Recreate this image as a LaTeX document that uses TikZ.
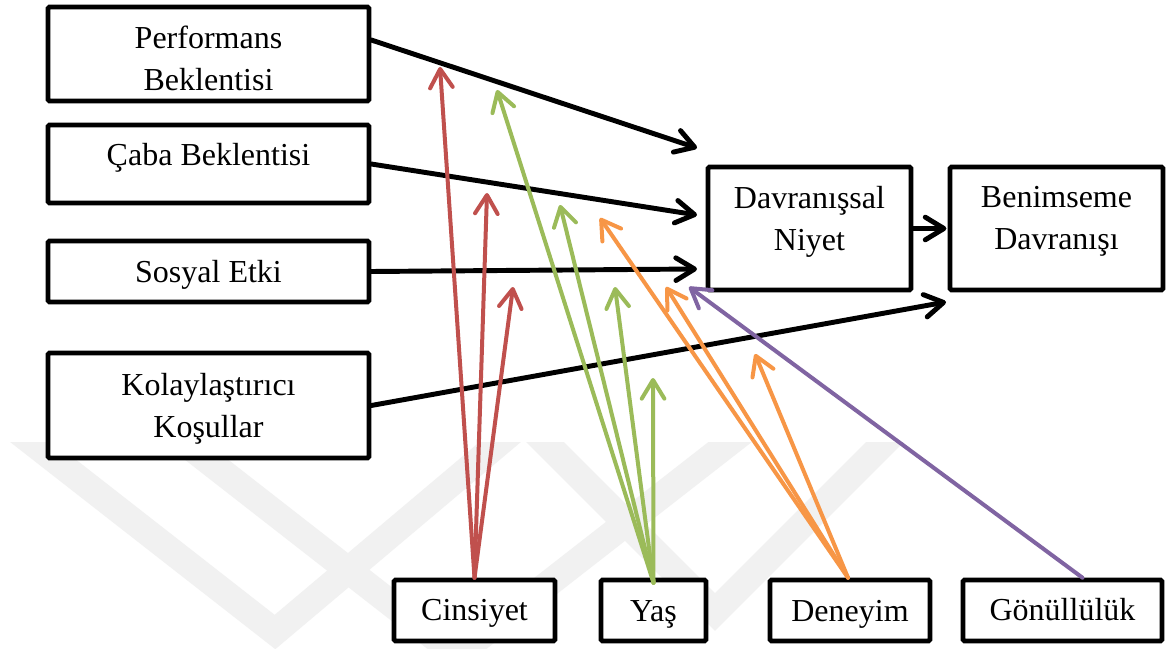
\documentclass[tikz,border=0pt]{standalone}
\usepackage{fontspec}
\setmainfont{Liberation Serif}
\usetikzlibrary{arrows.meta,calc}
\definecolor{cred}{HTML}{C0504D}
\definecolor{cgreen}{HTML}{9BBB59}
\definecolor{corange}{HTML}{F79646}
\definecolor{cpurple}{HTML}{8064A2}
\definecolor{wmark}{HTML}{F1F1F1}
\begin{document}
\begin{tikzpicture}[x=0.75pt,y=-0.75pt,
  box/.style={draw=black, line width=3.4pt, rounded corners=1pt, inner sep=0pt, fill=white},
  boxw/.style={minimum width=#1*0.75pt},
  boxh/.style={minimum height=#1*0.75pt},
  txt/.style={font=\fontsize{24}{31.5}\selectfont, align=center, inner sep=0pt},
  link/.style={draw=black, line width=3.7pt, line cap=round, line join=round,
    -{Straight Barb[length=14pt,width=17pt,round]}},
  mod/.style={link, line width=3pt, draw=#1}]

\useasboundingbox (0,0) rectangle (1167,649);
\fill[white] (0,0) rectangle (1167,649);

% faint chevron watermark in the lower half
\begin{scope}
  \clip (0,442) rectangle (1167,649);
  \draw[wmark, line width=20pt, line join=miter] (-22,400) -- (275,632) -- (550,400);
  \draw[wmark, line width=20pt, line join=miter] (130,400) -- (457,655) -- (784,400);
  \draw[wmark, line width=20pt, line join=miter] (503,400) -- (715,612) -- (927,400);
\end{scope}

% construct boxes
\node[box, boxw=321, boxh=94]  (perf)   at (208.5,54)    {};
\node[box, boxw=321, boxh=78]  (caba)   at (208.5,164)   {};
\node[box, boxw=321, boxh=61]  (sosyal) at (208.5,271.5) {};
\node[box, boxw=321, boxh=105] (kolay)  at (208.5,405.5) {};
\node[box, boxw=203, boxh=123] (niyet)  at (809.5,228.5) {};
\node[box, boxw=213, boxh=123] (benim)  at (1056.5,228.5) {};

% moderator boxes
\node[box, boxw=161, boxh=61] (cins) at (474.5,610.5) {};
\node[box, boxw=105, boxh=61] (yas)  at (653.5,610.5) {};
\node[box, boxw=160, boxh=61] (den)  at (850,610.5)   {};
\node[box, boxw=199, boxh=61] (gon)  at (1062.5,610.5) {};

% labels
\node[txt] (perf-t)   at (208.5,58)    {Performans\\Beklentisi};
\node[txt] (caba-t)   at (208.5,157.5) {Çaba Beklentisi};
\node[txt] (sosyal-t) at (208.5,274.5) {Sosyal Etki};
\node[txt] (kolay-t)  at (208.5,408.5) {Kolaylaştırıcı\\Koşullar};
\node[txt] (niyet-t)  at (809.5,221.5) {Davranışsal\\Niyet};
\node[txt] (benim-t)  at (1056.5,221.5) {Benimseme\\Davranışı};
\node[txt] (cins-t)   at (474.5,613.5) {Cinsiyet};
\node[txt] (yas-t)    at (653.5,614)   {Yaş};
\node[txt] (den-t)    at (850,614)     {Deneyim};
\node[txt] (gon-t)    at (1062.5,610)  {Gönüllülük};

% free arrow ends
\coordinate (t1) at (697,148);
\coordinate (t2) at (697,215);
\coordinate (t3) at (697,269);
\coordinate (t4) at (946,302);
\coordinate (r1) at (440,67);
\coordinate (r2) at (487,193);
\coordinate (r3) at (513,287);
\coordinate (g1) at (497,90);
\coordinate (g2) at (560,205);
\coordinate (g3) at (615,287);
\coordinate (g4) at (653,378);
\coordinate (o1) at (600,218);
\coordinate (o2) at (666,287);
\coordinate (o3) at (755,354);
\coordinate (p1) at (689,287);

% main paths
\draw[link] ($(perf.east)+(0,-14)$) -- (t1);
\draw[link] (caba.east) -- (t2);
\draw[link] (sosyal.east) -- (t3);
\draw[link] (kolay.east) -- (t4);
\draw[link, shorten >=1pt] (niyet.east) -- (benim.west);

% moderating effects
\draw[mod=cred] (cins.north) -- (r1);
\draw[mod=cred] (cins.north) -- (r2);
\draw[mod=cred] (cins.north) -- (r3);
\draw[mod=cgreen] ($(yas.north)+(0,5)$) -- (g1);
\draw[mod=cgreen] ($(yas.north)+(0,5)$) -- (g2);
\draw[mod=cgreen] ($(yas.north)+(0,5)$) -- (g3);
\draw[mod=cgreen] ($(yas.north)+(0,5)$) -- (g4);
\draw[mod=corange] ($(den.north)+(-2,0)$) -- (o1);
\draw[mod=corange] ($(den.north)+(-2,0)$) -- (o2);
\draw[mod=corange] ($(den.north)+(-2,0)$) -- (o3);
\draw[mod=cpurple] ($(gon.north)+(20,0)$) -- (p1);
\end{tikzpicture}
\end{document}
